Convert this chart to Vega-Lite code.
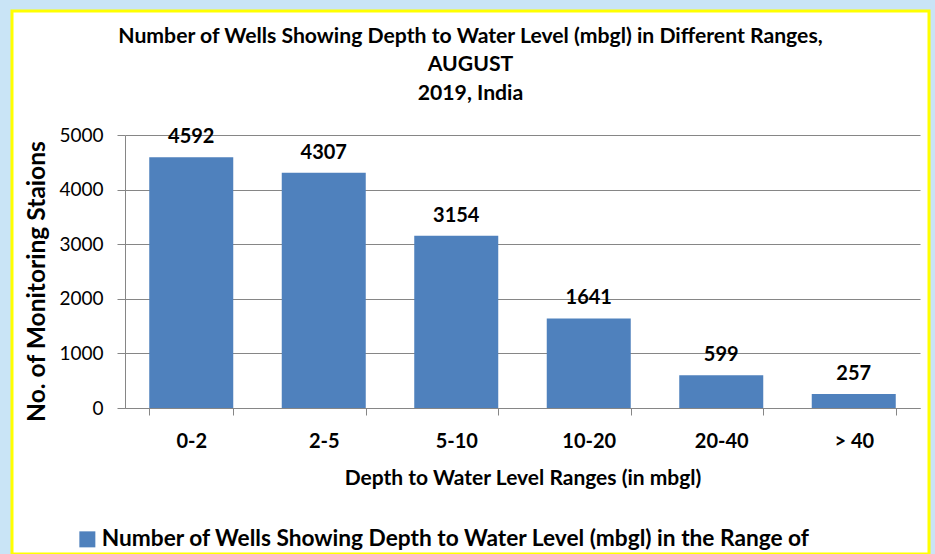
{
  "$schema": "https://vega.github.io/schema/vega-lite/v6.json",
  "width": 917,
  "height": 543,
  "autosize": {"type": "none"},
  "padding": {"left": 12, "top": 11, "right": 6, "bottom": 0},
  "background": "#c9e4f6",
  "view": {"fill": "#ffffff", "stroke": "#ffff00", "strokeWidth": 3},
  "title": {
    "text": ["Number of Wells Showing Depth to Water Level (mbgl) in Different Ranges,", "AUGUST", "2019, India"],
    "font": "Lato",
    "fontSize": 21.2,
    "fontWeight": "bold",
    "color": "#000000",
    "lineHeight": 28.5,
    "baseline": "top",
    "offset": -93,
    "anchor": "middle",
    "frame": "group"
  },
  "data": {
    "values": [
      {"range": "0-2", "count": 4592, "series": "Number of Wells Showing Depth to Water Level (mbgl) in the Range of"},
      {"range": "2-5", "count": 4307, "series": "Number of Wells Showing Depth to Water Level (mbgl) in the Range of"},
      {"range": "5-10", "count": 3154, "series": "Number of Wells Showing Depth to Water Level (mbgl) in the Range of"},
      {"range": "10-20", "count": 1641, "series": "Number of Wells Showing Depth to Water Level (mbgl) in the Range of"},
      {"range": "20-40", "count": 599, "series": "Number of Wells Showing Depth to Water Level (mbgl) in the Range of"},
      {"range": "> 40", "count": 257, "series": "Number of Wells Showing Depth to Water Level (mbgl) in the Range of"}
    ]
  },
  "encoding": {
    "x": {
      "field": "range",
      "type": "nominal",
      "sort": null,
      "scale": {"range": [113, 908], "paddingInner": 0.366, "paddingOuter": 0.183},
      "axis": {
        "title": "Depth to Water Level Ranges (in mbgl)",
        "offset": -146,
        "tickBand": "extent",
        "tickSize": 7,
        "labelAngle": 0,
        "labelFont": "Lato",
        "labelFontSize": 20,
        "labelFontWeight": "bold",
        "labelColor": "#000000",
        "labelBaseline": "middle",
        "labelPadding": 26,
        "titleFont": "Lato",
        "titleFontSize": 21,
        "titleFontWeight": "bold",
        "titleColor": "#000000",
        "titleY": 70,
        "titleBaseline": "middle",
        "grid": false,
        "domainColor": "#868686",
        "tickColor": "#868686"
      }
    },
    "y": {
      "field": "count",
      "type": "quantitative",
      "scale": {"domain": [0, 5000], "range": [397, 124], "nice": false, "zero": true},
      "axis": {
        "title": "No. of Monitoring Staions",
        "values": [0, 1000, 2000, 3000, 4000, 5000],
        "format": "d",
        "offset": -113,
        "tickSize": 8,
        "labelPadding": 14,
        "labelFont": "Lato",
        "labelFontSize": 19,
        "labelColor": "#000000",
        "domainColor": "#868686",
        "tickColor": "#868686",
        "grid": true,
        "gridColor": "#868686",
        "gridWidth": 1,
        "titleFont": "Lato",
        "titleFontSize": 24.6,
        "titleFontWeight": "bold",
        "titleColor": "#000000",
        "titleX": -88,
        "titleY": 270,
        "titleAngle": -90,
        "titleAlign": "center",
        "titleBaseline": "middle"
      }
    }
  },
  "layer": [
    {
      "mark": {"type": "bar"},
      "encoding": {
        "color": {
          "field": "series",
          "type": "nominal",
          "scale": {"range": ["#4f81bd"]},
          "legend": {
            "orient": "none",
            "legendX": 64,
            "legendY": 517,
            "title": null,
            "padding": 0,
            "symbolType": "square",
            "symbolSize": 256,
            "symbolStrokeWidth": 0,
            "symbolOpacity": 1,
            "labelFont": "Lato",
            "labelFontSize": 22.7,
            "labelFontWeight": "bold",
            "labelColor": "#000000",
            "labelLimit": 1000,
            "labelOffset": 3
          }
        }
      }
    },
    {
      "mark": {"type": "text", "dy": -14, "baseline": "alphabetic", "font": "Lato", "fontSize": 20, "fontWeight": "bold", "color": "#000000"},
      "encoding": {"text": {"field": "count", "type": "quantitative"}}
    }
  ]
}
